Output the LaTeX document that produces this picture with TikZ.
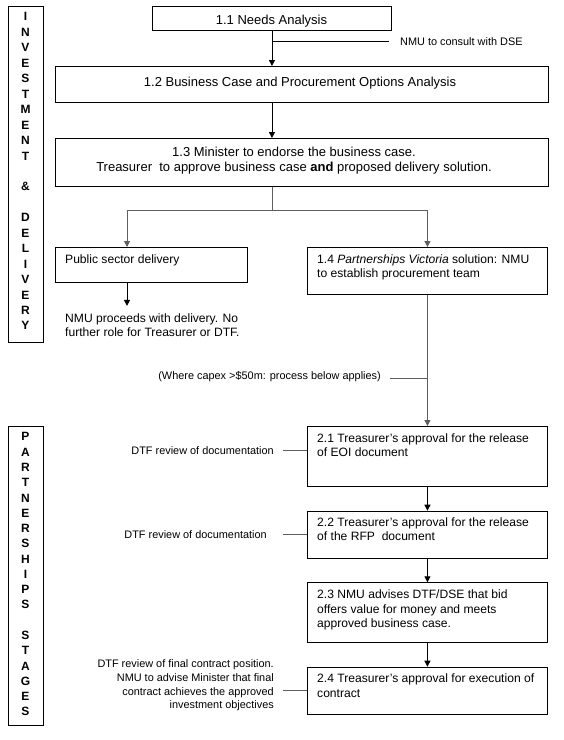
\documentclass[tikz,border=0pt]{standalone}
\usepackage{fontspec}
\setmainfont{Liberation Sans}
\usetikzlibrary{arrows.meta}
\definecolor{lgray}{HTML}{5E5E5E}
\begin{document}
\begin{tikzpicture}[x=1pt,y=-1pt,
  box/.style={draw=black, line width=0.9pt, inner sep=0pt, anchor=north west},
  main/.style={inner sep=0pt, font=\fontsize{13}{14.2}\selectfont},
  sub/.style={inner sep=0pt, font=\fontsize{12.1}{14.2}\selectfont},
  small/.style={inner sep=0pt, font=\fontsize{10.9}{13.7}\selectfont},
  vlet/.style={inner sep=0pt, align=center, font=\bfseries\fontsize{12}{15.45}\selectfont},
  tip/.style={-{Triangle[length=6pt,width=6pt]}},
  bline/.style={draw=black, line width=0.9pt},
  gline/.style={draw=lgray, line width=1pt}]
\useasboundingbox[fill=white] (0,0) rectangle (564,740);

% side stage boxes
\node[box, minimum width=35pt, minimum height=336pt] (sideA) at (8,6) {};
\node[vlet, anchor=north] (sideAt) at (25.5,12.5) {I\\N\\V\\E\\S\\T\\M\\E\\N\\T\\\mbox{}\\\&\\\mbox{}\\D\\E\\L\\I\\V\\E\\R\\Y};
\node[box, minimum width=35pt, minimum height=299pt] (sideB) at (8,426) {};
\node[vlet, anchor=north, font=\bfseries\fontsize{12}{15.27}\selectfont] (sideBt) at (25.5,432.5) {P\\A\\R\\T\\N\\E\\R\\S\\H\\I\\P\\S\\\mbox{}\\S\\T\\A\\G\\E\\S};

% main boxes
\node[box, minimum width=239pt, minimum height=24pt] (n11) at (152,6) {};
\node[main, anchor=base] (t11) at (271.5,24.5) {1.1 Needs Analysis};

\node[box, minimum width=493pt, minimum height=36pt] (n12) at (55,66) {};
\node[main, anchor=base] (t12) at (300,86) {1.2 Business Case and Procurement Options Analysis};

\node[box, minimum width=493pt, minimum height=48pt] (n13) at (55,138) {};
\node[main, anchor=north, align=center, font=\fontsize{13}{15.5}\selectfont] (t13) at (294,146.5)
  {1.3 Minister to endorse the business case.\\Treasurer\ \ to approve business case \textbf{and} proposed delivery solution.};

\node[box, minimum width=192pt, minimum height=35pt] (npub) at (55,247) {};
\node[sub, anchor=north west] (tpub) at ([shift={(10,8)}]npub.north west) {Public sector delivery};

\node[sub, anchor=north west, align=left] (tnmu) at (65,313.3)
  {NMU proceeds with delivery. No\\further role for Treasurer or DTF.};

\node[box, minimum width=240pt, minimum height=47pt] (n14) at (307,247) {};
\node[sub, anchor=north west, align=left] (t14) at ([shift={(10,7.2)}]n14.north west)
  {1.4 \textit{Partnerships Victoria} solution: NMU\\to establish procurement team};

\node[box, minimum width=240pt, minimum height=60pt] (n21) at (307,426) {};
\node[sub, anchor=north west, align=left] (t21) at ([shift={(10,7.2)}]n21.north west)
  {2.1 Treasurer's approval for the release\\of EOI document};

\node[box, minimum width=240pt, minimum height=47pt] (n22) at (307,510.7) {};
\node[sub, anchor=north west, align=left] (t22) at ([shift={(10,7)}]n22.north west)
  {2.2 Treasurer's approval for the release\\of the RFP\ \ document};

\node[box, minimum width=240pt, minimum height=59.4pt] (n23) at (307,582.3) {};
\node[sub, anchor=north west, align=left] (t23) at ([shift={(10,7.6)}]n23.north west)
  {2.3 NMU advises DTF/DSE that bid\\offers value for money and meets\\approved business case.};

\node[box, minimum width=240pt, minimum height=47.3pt] (n24) at (307,666.7) {};
\node[sub, anchor=north west, align=left] (t24) at ([shift={(10,7.3)}]n24.north west)
  {2.4 Treasurer's approval for execution of\\contract};

% side labels
\node[small, anchor=west] (lnmu) at (400,41.5) {NMU to consult with DSE};
\node[small, anchor=east] (lcap) at (381,377) {(Where capex >\$50m: process below applies)};
\node[small, anchor=east] (ld1) at (274,450.5) {DTF review of documentation};
\node[small, anchor=east] (ld2) at (267,534.5) {DTF review of documentation};
\node[small, anchor=north east, align=right] (ld3) at (274,659.5)
  {DTF review of final contract position.\\NMU to advise Minister that final\\contract achieves the approved\\investment objectives};

% helper coordinates
\coordinate (sp) at (272,210);
\coordinate (pa) at (127,0);
\coordinate (lx) at (283,0);
\coordinate (ex) at (389,0);
\coordinate (cx) at (390,0);

% connectors
\draw[bline, tip] (n11.south) -- (n11.south |- n12.north);
\draw[bline] (n11.south |- lnmu) -- (ex |- lnmu);
\draw[bline, tip] (n12.south -| n11.south) -- (n13.north -| n11.south);
\draw[gline] (n13.south -| sp) -- (sp);
\draw[gline, tip] (sp) -| (pa |- npub.north);
\draw[gline, tip] (sp) -| (n14.north);
\draw[bline, tip] (pa |- npub.south) -- ++(0,23);
\draw[gline, tip] (n14.south) -- (n21.north);
\draw[gline] (cx |- 0,378.5) -- (n14.south |- 0,378.5);
\draw[bline, tip] (n21.south) -- (n22.north);
\draw[bline, tip] (n22.south) -- (n23.north);
\draw[bline, tip] (n23.south) -- (n24.north);
\draw[gline] (lx |- ld1.east) -- (n21.west |- ld1.east);
\draw[gline] (lx |- ld2.east) -- (n22.west |- ld2.east);
\draw[gline] (lx |- n24.west) -- (n24.west);
\end{tikzpicture}
\end{document}
